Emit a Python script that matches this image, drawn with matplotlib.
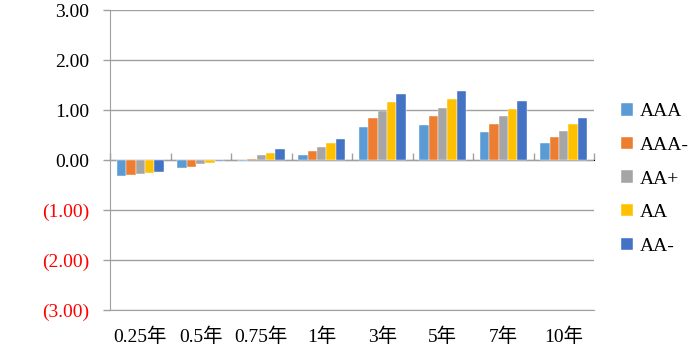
import matplotlib
matplotlib.use("Agg")
import matplotlib.pyplot as plt
import numpy as np
from matplotlib.ticker import FuncFormatter

categories = ["0.25年", "0.5年", "0.75年", "1年", "3年", "5年", "7年", "10年"]
series_names = ["AAA", "AAA-", "AA+", "AA", "AA-"]
AAA = [-0.31, -0.16, -0.02, 0.11, 0.67, 0.71, 0.57, 0.35]
AAA_m = [-0.30, -0.13, 0.03, 0.19, 0.84, 0.88, 0.73, 0.47]
AA_p = [-0.28, -0.08, 0.10, 0.27, 0.99, 1.04, 0.88, 0.59]
AA = [-0.25, -0.05, 0.15, 0.34, 1.17, 1.22, 1.03, 0.73]
AA_m = [-0.23, -0.01, 0.22, 0.42, 1.33, 1.39, 1.18, 0.84]
series = [AAA, AAA_m, AA_p, AA, AA_m]
colors = ["#5B9BD5", "#ED7D31", "#A5A5A5", "#FFC000", "#4472C4"]

plt.rcParams['font.family'] = ['Liberation Serif', 'Noto Sans CJK SC']

fig = plt.figure(figsize=(7.0, 3.51), dpi=100)
ax = fig.add_axes([110/700, 1-310/351, (594-110)/700, 300/351])

n = len(series)
x = np.arange(len(categories))
group_w = 0.77
bw = group_w / n
for i, (vals, c, name) in enumerate(zip(series, colors, series_names)):
    ax.bar(x - group_w/2 + bw*(i+0.5), vals, width=bw, color=c, label=name,
           edgecolor='white', linewidth=0.3, zorder=3)

ax.set_xlim(-0.5, len(categories)-0.5)
ax.set_ylim(-3, 3)
ax.set_yticks([3, 2, 1, 0, -1, -2, -3])

def fmt(v, pos):
    if v < 0:
        return "(%.2f)" % abs(v)
    return "%.2f" % v
ax.yaxis.set_major_formatter(FuncFormatter(fmt))
for lbl, v in zip(ax.get_yticklabels(), ax.get_yticks()):
    lbl.set_color('red' if v < 0 else 'black')
ax.tick_params(axis='y', labelsize=14, length=5, color='#A0A0A0', width=1, pad=10)

ax.set_xticks(x)
ax.set_xticklabels(categories)
ax.tick_params(axis='x', length=0, labelsize=14, pad=13)

ax.grid(axis='y', color='#A0A0A0', linewidth=1, zorder=0)
ax.set_axisbelow(True)
for s in ['top', 'right']:
    ax.spines[s].set_visible(False)
ax.spines['left'].set_color('#A0A0A0')
ax.spines['bottom'].set_color('#A0A0A0')

sec = ax.secondary_xaxis(0.5)
sec.set_xticks(np.arange(len(categories)+1) - 0.5)
sec.set_xticklabels([])
sec.tick_params(axis='x', length=5, color='#A0A0A0', width=1, direction='out')
sec.spines['bottom'].set_color('#A0A0A0')

fig.legend(loc='center left', bbox_to_anchor=(0.868, 0.49), frameon=False,
           handlelength=0.6, handleheight=0.6, handletextpad=0.35,
           labelspacing=0.85, fontsize=14, borderpad=0.2)

fig.savefig("out.png", dpi=100)
